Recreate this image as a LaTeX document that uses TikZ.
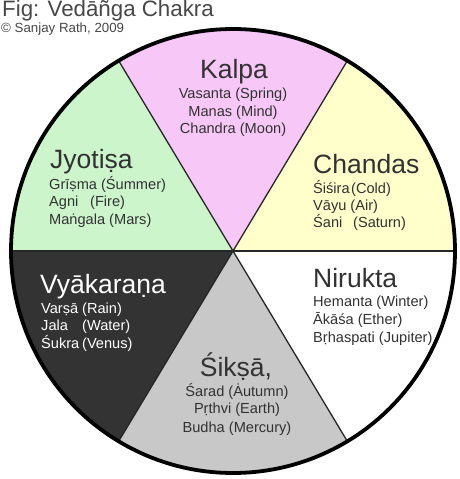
\documentclass[tikz,border=0pt]{standalone}
\usepackage{fontspec}
\usetikzlibrary{calc}
\setmainfont{Liberation Sans}
\definecolor{pinkc}{RGB}{247,200,247}
\definecolor{greenc}{RGB}{204,245,204}
\definecolor{yellowc}{RGB}{255,255,204}
\definecolor{darkc}{RGB}{51,51,51}
\definecolor{grayc}{RGB}{200,200,200}
\definecolor{txt}{RGB}{50,50,50}
\begin{document}
\begin{tikzpicture}[x=1pt,y=-1pt,
  divider/.style={draw=black!85, line width=1.3pt},
  rim/.style={draw=black, line width=3.8pt},
  ttl/.style={font=\fontsize{26.5}{26.5}\selectfont, inner sep=0pt, text=txt},
  itm/.style={font=\fontsize{14.6}{14.6}\selectfont, inner sep=0pt, text=txt},
  wttl/.style={ttl, text=white},
  witm/.style={itm, text=white},
]
\useasboundingbox (0,0) rectangle (460,479);
\def\R{222}
\coordinate (c) at (233,251);
% sectors
\fill[yellowc] (c) -- ++(-59:\R) arc[start angle=-59, end angle=0, radius=\R] -- cycle;
\fill[pinkc] (c) -- ++(-121:\R) arc[start angle=-121, end angle=-59, radius=\R] -- cycle;
\fill[greenc] (c) -- ++(-180:\R) arc[start angle=-180, end angle=-121, radius=\R] -- cycle;
\fill[darkc] (c) -- ++(121:\R) arc[start angle=121, end angle=180, radius=\R] -- cycle;
\fill[grayc] (c) -- ++(59:\R) arc[start angle=59, end angle=121, radius=\R] -- cycle;
\fill[white] (c) -- ++(0:\R) arc[start angle=0, end angle=59, radius=\R] -- cycle;
% dividers
\coordinate (pE) at ($(c)+(0:\R)$);
\coordinate (pW) at ($(c)+(180:\R)$);
\coordinate (pNE) at ($(c)+(-59:\R)$);
\coordinate (pNW) at ($(c)+(-121:\R)$);
\coordinate (pSE) at ($(c)+(59:\R)$);
\coordinate (pSW) at ($(c)+(121:\R)$);
\draw[divider] (pW) -- (pE);
\draw[divider] (pNW) -- (pSE);
\draw[divider] (pNE) -- (pSW);
\draw[rim] (c) circle[radius=\R];
% heading
\node[anchor=base west, inner sep=0pt, text=black!72, font=\fontsize{22.3}{22.3}\selectfont] (fig) at (2,16.7) {Fig: Vedāñga Chakra};
\node[anchor=base west, inner sep=0pt, text=black!72, font=\fontsize{13.3}{13.3}\selectfont] (copy) at (1,32) {© Sanjay Rath, 2009};
% Kalpa
\node[ttl, anchor=base] (kalpa) at (234,78) {Kalpa};
\node[itm, anchor=base] (k1) at (233,98) {Vasanta (Spring)};
\node[itm, anchor=base] (k2) at (233,116) {Manas (Mind)};
\node[itm, anchor=base] (k3) at (233,133.5) {Chandra (Moon)};
% Jyotisa
\node[ttl, anchor=base west] (jyo) at (50,168) {Jyotiṣa};
\node[itm, anchor=base west] (j1) at (49,189) {Grīṣma (Śummer)};
\node[itm, anchor=base west] (j2) at (49,206.5) {\makebox[41pt][l]{Agni}(Fire)};
\node[itm, anchor=base west] (j3) at (49,224) {Maṅgala (Mars)};
% Chandas
\node[ttl, anchor=base west] (cha) at (313,173) {Chandas};
\node[itm, anchor=base west] (c1) at (313,193) {Śiśira\hspace{1.5pt}(Cold)};
\node[itm, anchor=base west] (c2) at (313,210) {Vāyu\hspace{4pt}(Air)};
\node[itm, anchor=base west] (c3) at (313,227.5) {\makebox[40pt][l]{Śani}(Saturn)};
% Vyakarana
\node[wttl, anchor=base west] (vya) at (40,293) {Vyākaraṇa};
\node[witm, anchor=base west] (v1) at (41,313) {\makebox[41pt][l]{Varṣā}(Rain)};
\node[witm, anchor=base west] (v2) at (41,330.5) {\makebox[41pt][l]{Jala}(Water)};
\node[witm, anchor=base west] (v3) at (41,348) {\makebox[41pt][l]{Śukra}(Venus)};
% Nirukta
\node[ttl, anchor=base west] (nir) at (313,287) {Nirukta};
\node[itm, anchor=base west] (n1) at (313,306) {Hemanta (Winter)};
\node[itm, anchor=base west] (n2) at (313,324) {Ākāśa (Ether)};
\node[itm, anchor=base west] (n3) at (313,342) {Bṛhaspati (Jupiter)};
% Siksa
\node[ttl, anchor=base] (sik) at (236,376) {Śikṣā,};
\node[itm, anchor=base] (s1) at (237,396) {Śarad (Ȧutumn)};
\node[itm, anchor=base] (s2) at (237,413.5) {Pṛthvi (Earth)};
\node[itm, anchor=base] (s3) at (237,432) {Budha (Mercury)};
\end{tikzpicture}
\end{document}
